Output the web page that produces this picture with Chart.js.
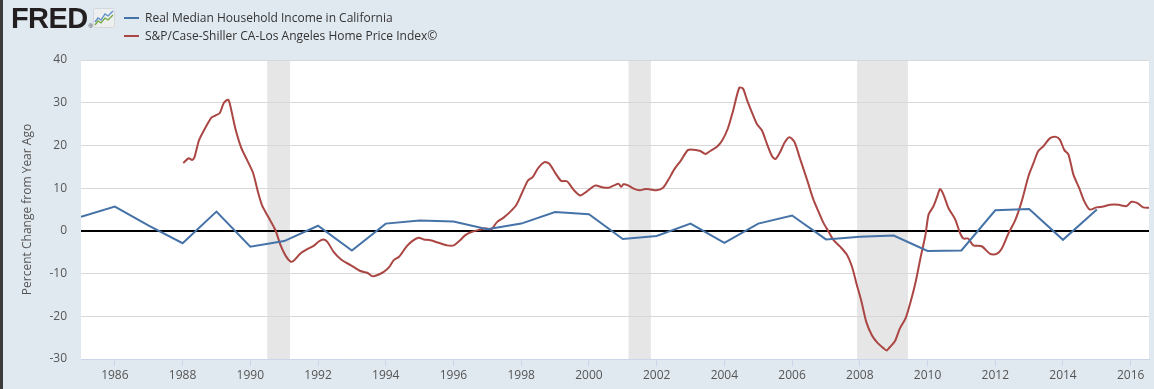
<!DOCTYPE html>
<html>
<head>
<meta charset="utf-8">
<script src="https://cdn.jsdelivr.net/npm/chart.js@4/dist/chart.umd.min.js"></script>
<style>
    html, body { margin: 0; padding: 0; }
    body {
        width: 1154px; height: 389px; overflow: hidden; position: relative;
        background: #e1e9f0; font-family: 'Open Sans', sans-serif;
    }
    #edge { position: absolute; left: 0; top: 0; width: 3px; height: 389px; background: #3b3b3b; z-index: 3; }
    #wrap { position: absolute; left: 0; top: 0; width: 1154px; height: 389px; }
    #logo {
        position: absolute; left: 11px; top: 2px; z-index: 2;
        font-family: 'Liberation Sans', Arial, sans-serif; font-weight: bold;
        font-size: 29px; color: #231f20; letter-spacing: -0.6px;
    }
    #logo sup { font-size: 6px; font-weight: normal; vertical-align: baseline; margin-left: 1px; }
    #icon { position: absolute; left: 93px; top: 8px; z-index: 2; }
    .leg { position: absolute; left: 124px; z-index: 2; font-size: 12px; color: #333; white-space: nowrap; }
    .leg i { display: inline-block; width: 15px; height: 2px; vertical-align: middle; margin-right: 6px; position: relative; top: -1px; }
</style>
</head>
<body>
<div id="edge"></div>
<div id="logo">FRED<sup>®</sup></div>
<svg id="icon" width="22" height="20" viewBox="0 0 22 20">
    <rect x="0.5" y="0.5" width="21" height="19" rx="2" fill="#eceef0" stroke="#d4d8dc"/>
    <polyline points="2,14 5,10 8,12 12,6 15,8 20,3" fill="none" stroke="#5b8fc9" stroke-width="1.3"/>
    <polyline points="2,17 5,13 8,15 12,10 15,12 20,7" fill="none" stroke="#72a83e" stroke-width="1.3"/>
</svg>
<div class="leg" style="top:9px"><i style="background:#4572a7"></i>Real Median Household Income in California</div>
<div class="leg" style="top:27px"><i style="background:#aa4643"></i>S&amp;P/Case-Shiller CA-Los Angeles Home Price Index©</div>
<div id="wrap"><canvas id="chart"></canvas></div>

<script>
// ── Data ─────────────────────────────────────────────────────────────────────

const incomeYears = [1985, 1986, 1987, 1988, 1989, 1990, 1991, 1992, 1993, 1994,
                     1995, 1996, 1997, 1998, 1999, 2000, 2001, 2002, 2003, 2004,
                     2005, 2006, 2007, 2008, 2009, 2010, 2011, 2012, 2013, 2014, 2015];
const incomeValues = [3.3, 5.7, 1.2, -2.9, 4.5, -3.7, -2.4, 1.2, -4.6, 1.7,
                      2.4, 2.2, 0.4, 1.7, 4.4, 3.9, -1.9, -1.2, 1.7, -2.8,
                      1.7, 3.6, -2.0, -1.4, -1.1, -4.7, -4.6, 4.8, 5.1, -2.1, 5.0];

const hpiDates = [
    1988.02, 1988.18, 1988.28, 1988.35, 1988.48, 1988.63, 1988.85, 1988.97, 1989.10, 1989.22,
    1989.35, 1989.44, 1989.56, 1989.73, 1989.91, 1990.08, 1990.22, 1990.35, 1990.55, 1990.74,
    1990.89, 1991.04, 1991.19, 1991.28, 1991.48, 1991.68, 1991.87, 1992.02, 1992.15, 1992.27,
    1992.46, 1992.71, 1992.96, 1993.25, 1993.45, 1993.60, 1993.74, 1993.94, 1994.10, 1994.23,
    1994.40, 1994.60, 1994.78, 1994.97, 1995.12, 1995.32, 1995.56, 1995.81, 1996.01, 1996.17,
    1996.35, 1996.55, 1996.79, 1996.94, 1997.12, 1997.29, 1997.48, 1997.68, 1997.86, 1998.02,
    1998.20, 1998.34, 1998.50, 1998.69, 1998.83, 1999.01, 1999.18, 1999.35, 1999.55, 1999.74,
    1999.93, 2000.19, 2000.39, 2000.58, 2000.73, 2000.88, 2000.95, 2001.02, 2001.17, 2001.32,
    2001.50, 2001.66, 2001.81, 2001.99, 2002.19, 2002.35, 2002.52, 2002.72, 2002.92, 2003.09,
    2003.29, 2003.44, 2003.58, 2003.78, 2003.93, 2004.10, 2004.26, 2004.44, 2004.55, 2004.67,
    2004.81, 2004.96, 2005.11, 2005.26, 2005.40, 2005.51, 2005.65, 2005.78, 2005.92, 2006.07,
    2006.23, 2006.44, 2006.63, 2006.78, 2006.93, 2007.08, 2007.22, 2007.42, 2007.62, 2007.77,
    2007.90, 2008.05, 2008.19, 2008.36, 2008.53, 2008.69, 2008.79, 2008.89, 2009.04, 2009.18,
    2009.35, 2009.50, 2009.65, 2009.79, 2009.94, 2010.03, 2010.17, 2010.27, 2010.37, 2010.47,
    2010.62, 2010.81, 2010.96, 2011.06, 2011.20, 2011.35, 2011.60, 2011.85, 2012.04, 2012.19,
    2012.39, 2012.59, 2012.78, 2012.98, 2013.13, 2013.27, 2013.42, 2013.62, 2013.79, 2013.91,
    2014.04, 2014.16, 2014.31, 2014.48, 2014.63, 2014.79, 2014.99, 2015.19, 2015.39, 2015.64,
    2015.88, 2016.02, 2016.20, 2016.37, 2016.54
];
const hpiValues = [
    15.9, 17.0, 16.6, 17.2, 21.1, 23.5, 26.5, 27.0, 27.6, 30.0,
    30.7, 28.2, 23.9, 19.5, 16.5, 13.6, 9.3, 5.9, 3.0, 0.2,
    -3.3, -5.8, -7.2, -7.0, -5.3, -4.3, -3.5, -2.5, -2.0, -2.5,
    -4.9, -6.9, -8.0, -9.4, -9.8, -10.6, -10.4, -9.6, -8.5, -6.9,
    -6.0, -3.8, -2.4, -1.6, -2.0, -2.2, -2.8, -3.4, -3.4, -2.4,
    -1.0, -0.2, 0.3, 0.6, 0.4, 2.1, 3.1, 4.5, 6.1, 8.8,
    11.8, 12.6, 14.7, 16.1, 15.7, 13.5, 11.7, 11.6, 9.6, 8.3,
    9.2, 10.6, 10.2, 10.1, 10.6, 11.0, 10.3, 10.9, 10.6, 9.9,
    9.5, 9.8, 9.7, 9.5, 10.1, 12.0, 14.4, 16.5, 18.9, 19.0,
    18.7, 18.0, 18.7, 19.7, 21.1, 23.9, 28.2, 33.5, 33.3, 30.6,
    27.8, 25.0, 23.5, 20.3, 17.6, 16.8, 18.5, 20.7, 21.9, 20.8,
    17.0, 12.0, 7.3, 4.5, 1.8, -0.2, -2.1, -3.7, -5.6, -8.4,
    -12.3, -16.6, -21.3, -24.5, -26.3, -27.4, -28.0, -27.2, -25.8, -22.9,
    -20.5, -16.6, -11.9, -6.4, -0.9, 3.8, 5.7, 7.7, 9.8, 8.5,
    5.3, 2.8, -0.5, -1.8, -1.8, -3.4, -3.6, -5.4, -5.4, -4.2,
    -0.6, 2.5, 6.9, 12.8, 15.9, 18.7, 19.8, 21.7, 22.0, 21.3,
    18.9, 17.9, 13.1, 10.0, 6.9, 5.0, 5.5, 5.7, 6.1, 6.1,
    5.8, 6.8, 6.5, 5.5, 5.4
];

const recessionStarts = [1990.50, 2001.17, 2007.92];
const recessionEnds   = [1991.17, 2001.83, 2009.42];

const yearTicks = [1986, 1988, 1990, 1992, 1994, 1996, 1998, 2000,
                   2002, 2004, 2006, 2008, 2010, 2012, 2014, 2016];
const percentTicks = [-30, -20, -10, 0, 10, 20, 30, 40];

// ── Plot background + recession bands ───────────────────────────────────────

const plotBackground = {
    id: 'plotBackground',
    beforeDraw(chart) {
        const { ctx, chartArea: a, scales: { x } } = chart;
        ctx.save();
        ctx.fillStyle = '#ffffff';
        ctx.fillRect(a.left, a.top, a.right - a.left, a.bottom - a.top);
        ctx.fillStyle = '#e6e6e6';
        recessionStarts.forEach((s, i) => {
            const x0 = x.getPixelForValue(s);
            const x1 = x.getPixelForValue(recessionEnds[i]);
            ctx.fillRect(x0, a.top, x1 - x0, a.bottom - a.top);
        });
        ctx.restore();
    }
};

// ── Chart ───────────────────────────────────────────────────────────────────

const tickFont = { family: "'Open Sans', sans-serif", size: 12 };

new Chart(document.getElementById('chart'), {
    type: 'line',
    data: {
        datasets: [
            {
                label: 'Real Median Household Income in California',
                data: incomeYears.map((yr, i) => ({ x: yr, y: incomeValues[i] })),
                borderColor: '#4572a7',
                borderWidth: 2,
                pointRadius: 0,
                tension: 0,
            },
            {
                label: 'S&P/Case-Shiller CA-Los Angeles Home Price Index©',
                data: hpiDates.map((d, i) => ({ x: d, y: hpiValues[i] })),
                borderColor: '#aa4643',
                borderWidth: 2,
                pointRadius: 0,
                tension: 0.25,
            }
        ]
    },
    options: {
        responsive: true,
        maintainAspectRatio: false,
        animation: false,
        layout: { padding: { top: 60, right: 5, left: 16, bottom: 0 } },
        plugins: { legend: { display: false }, tooltip: { enabled: false } },
        scales: {
            x: {
                type: 'linear',
                min: 1985,
                max: 2016.54,
                afterBuildTicks: s => { s.ticks = yearTicks.map(v => ({ value: v })); },
                afterFit: s => { s.height = 30; },
                ticks: {
                    callback: v => String(v),
                    color: '#555',
                    font: tickFont,
                    padding: 2,
                    maxRotation: 0,
                    autoSkip: false,
                },
                grid: { drawOnChartArea: false, color: '#ccd6eb', tickLength: 7 },
                border: { color: '#ccd6eb' },
            },
            y: {
                min: -30,
                max: 40,
                afterBuildTicks: s => { s.ticks = percentTicks.map(v => ({ value: v })); },
                afterFit: s => { s.width = 65; },
                ticks: { color: '#555', font: tickFont, padding: 14 },
                grid: {
                    drawTicks: false,
                    color: c => c.tick && c.tick.value === 0 ? '#000000' : '#d8d8d8',
                    lineWidth: c => c.tick && c.tick.value === 0 ? 2 : 1,
                },
                border: { display: false },
                title: {
                    display: true,
                    text: 'Percent Change from Year Ago',
                    color: '#555',
                    font: tickFont,
                },
            }
        }
    },
    plugins: [plotBackground]
});
</script>
</body>
</html>
